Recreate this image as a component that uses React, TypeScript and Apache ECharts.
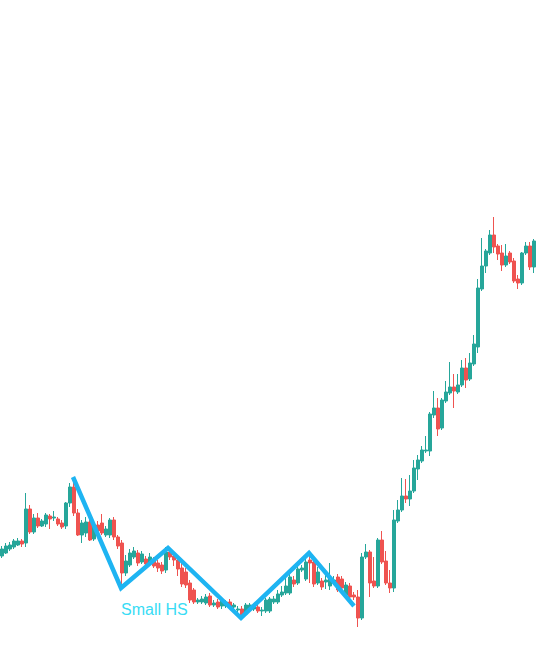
import React, { useEffect, useRef } from "react";
import * as echarts from "echarts";

// Candle OHLC values (price units)
const openV = [109,112,116,118,120,124,122,156,133,147,139,141,149,147,146,142,139,162,178,152,130,132,143,126,140,142,130,130,145,128,122,92,100,108,112,103,106,102,105,102,100,95,113,109,105,97,93,82,75,63,63,62,69,60,63,59,59,63,58,55,56,51,55,56,58,54,54,54,63,63,70,72,72,85,82,95,86,105,103,82,84,83,79,83,88,86,70,79,70,68,47,108,113,84,79,125,104,82,77,144,155,169,166,174,196,204,214,214,250,257,237,264,272,278,273,280,297,286,301,318,376,399,412,430,419,412,400,412,404,386,382,412,419,398];
const closeV = [116,119,120,124,124,121,156,133,147,139,144,150,146,148,141,138,162,178,152,130,142,143,125,140,134,132,136,145,128,119,92,104,112,114,102,111,101,108,99,97,94,113,108,105,96,81,80,65,63,65,66,68,60,62,58,65,63,58,60,56,50,60,60,58,54,55,65,66,66,71,73,79,88,81,96,97,103,102,81,93,78,85,88,85,75,77,80,68,68,47,108,113,82,79,125,103,82,77,145,155,169,166,174,197,205,215,215,251,257,236,265,273,278,274,280,297,285,302,321,377,399,414,430,418,411,400,409,403,384,382,412,419,398,424];
const lowV = [107,111,114,116,119,118,118,131,131,137,138,138,136,144,139,136,136,158,149,129,122,128,124,124,131,130,128,127,125,116,80,89,98,106,99,101,98,99,97,93,91,92,105,99,89,78,77,62,61,61,61,60,58,58,56,56,57,56,55,52,48,49,53,54,52,49,52,52,61,61,68,70,70,78,80,93,84,82,78,80,75,76,75,80,73,74,68,66,65,38,45,106,68,77,77,101,80,72,73,142,153,162,159,172,185,202,212,209,247,229,235,262,270,257,271,278,277,284,299,312,374,392,410,412,405,394,398,401,382,376,380,410,395,392];
const highV = [119,122,123,126,127,126,172,160,151,152,146,152,151,154,148,145,163,182,188,156,145,148,147,145,144,151,139,147,148,130,125,110,116,118,115,114,109,112,108,105,103,118,116,112,109,102,97,85,77,67,69,71,72,65,66,67,65,66,62,59,59,62,62,61,60,58,67,68,69,75,79,92,91,89,99,100,107,112,105,98,87,92,102,89,91,89,83,82,73,75,112,121,115,108,127,134,114,95,155,165,187,186,190,205,210,219,229,253,274,267,267,284,303,291,291,305,307,312,330,386,427,416,435,448,421,420,421,414,407,390,413,423,423,426];

// Pattern line vertices: [candle position, price]
const patternX = [17.75, 29.75, 41.5, 59.75, 76.75, 88];
const patternY = [188, 77, 117, 47, 112, 59];
const patternLabel = "Small HS";

const UP = "#26a69a";
const DOWN = "#ef5350";

export default function App() {
  const ref = useRef<HTMLDivElement>(null);
  useEffect(() => {
    if (!ref.current) return;
    const chart = echarts.init(ref.current, null, { renderer: "svg" });
    const cats = openV.map((_, i) => String(i));
    const candles = openV.map((o, i) => [o, closeV[i], lowV[i], highV[i]]);
    const line = patternX.map((x, i) => [x, patternY[i]]);
    chart.setOption({
      animation: false,
      backgroundColor: "#ffffff",
      grid: { left: 0, right: 0, top: 0, bottom: 0 },
      xAxis: [
        { type: "category", data: cats, show: false, boundaryGap: true },
        { type: "value", min: -0.5, max: openV.length - 0.5, show: false },
      ],
      yAxis: { type: "value", min: 0, max: 665, show: false },
      series: [
        {
          type: "candlestick",
          data: candles,
          barWidth: 3,
          itemStyle: {
            color: UP,
            color0: DOWN,
            borderColor: UP,
            borderColor0: DOWN,
            borderWidth: 1,
          },
        },
        {
          type: "line",
          xAxisIndex: 1,
          data: line,
          symbol: "none",
          lineStyle: { color: "#1eb4f2", width: 4.5, join: "miter" },
          z: 5,
        },
      ],
      graphic: [
        {
          type: "text",
          left: 121,
          top: 601,
          style: {
            text: patternLabel,
            fontSize: 16,
            fontFamily: "'Liberation Sans', Arial, sans-serif",
            fill: "#38dcf5",
          },
        },
      ],
    });
    return () => chart.dispose();
  }, []);
  return (
    <div
      ref={ref}
      style={{ position: "absolute", left: 0, top: 0, width: 536, height: 665 }}
    />
  );
}
